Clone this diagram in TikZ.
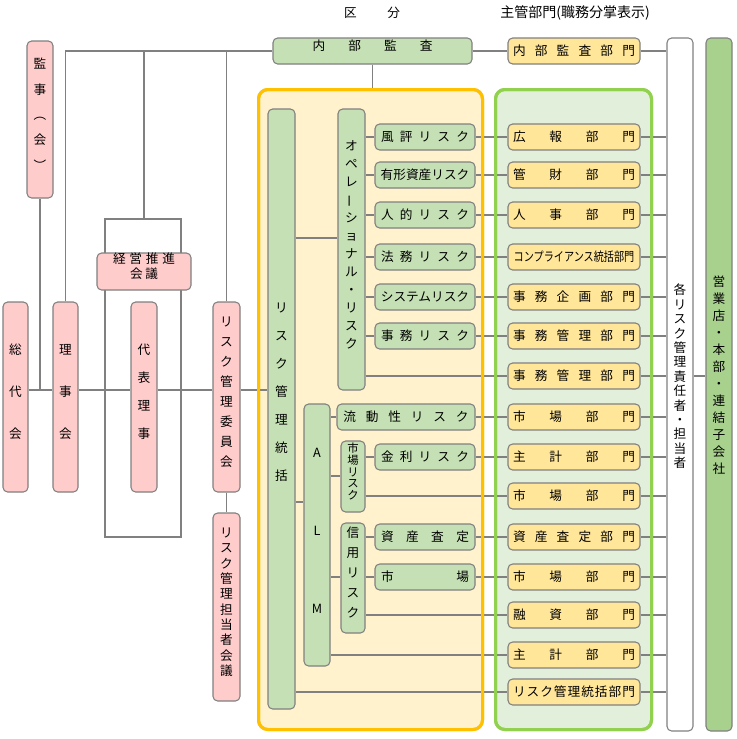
\documentclass[tikz,border=0pt]{standalone}
\usepackage{fontspec}
\usepackage{graphicx}
\setmainfont{Noto Sans CJK JP}
\usetikzlibrary{fit,backgrounds}
\definecolor{pinkf}{HTML}{FFCCCC}
\definecolor{greenf}{HTML}{C5E0B4}
\definecolor{yellowf}{HTML}{FFE699}
\definecolor{orangeb}{HTML}{FFC000}
\definecolor{orangef}{HTML}{FFF2CC}
\definecolor{lgreenb}{HTML}{92D050}
\definecolor{lgreenf}{HTML}{E2EFDA}
\definecolor{eigyof}{HTML}{A9D18E}
\definecolor{grayb}{HTML}{808080}
\newcommand\lsp[2]{\makebox[#1][s]{\lsploop#2\relax}}
\def\lsploop#1#2{#1\ifx\relax#2\else\hfill\expandafter\lsploop\expandafter#2\fi}
\newcommand\vbar{\rotatebox[origin=c]{90}{ー}}
\begin{document}
\begin{tikzpicture}[x=0.75pt,y=-0.75pt, font=\fontsize{9.5}{11}\selectfont,
  base/.style={draw=grayb, line width=0.8pt, rounded corners=3.5pt, inner sep=0pt},
  pk/.style={base, fill=pinkf},
  gn/.style={base, fill=greenf},
  dept/.style={base, fill=yellowf, minimum width=99pt, minimum height=19.5pt},
  rk/.style={base, fill=greenf, minimum width=75pt, minimum height=19.5pt},
  vt/.style={align=center, font=\fontsize{9.5}{#1}\selectfont},
  ln/.style={draw=grayb, line width=0.8pt},
  area/.style={line width=2.25pt, rounded corners=7pt, inner sep=0pt}
]
\useasboundingbox (0,0) rectangle (736,739);

% titles
\node (kubun) at (372,13) {\lsp{42pt}{区分}};
\node (shukan) at (575,13) {\fontsize{10.5}{12}\selectfont 主管部門(職務分掌表示)};

% left column
\node[pk, vt=19pt, fit={(27,41) (53,198)}] (kansa) {監\\事\\︵\\会\\︶};
\node[pk, vt=31.5pt, fit={(3,302) (28,492)}] (sodai) {総\\代\\会};
\node[pk, vt=31.5pt, fit={(53,302) (78,492)}] (riji) {理\\事\\会};
\node[pk, vt=21pt, fit={(131,302) (157,492)}] (daihyo) {代\\表\\理\\事};
\node[pk, vt=15.1pt, fit={(213,302) (240,492)}] (iinkai) {リ\\ス\\ク\\管\\理\\委\\員\\会};
\node[pk, vt=11.5pt, fit={(213,513) (240,701)}] (tanto) {リ\\ス\\ク\\管\\理\\担\\当\\者\\会\\議};
\node[pk, vt=11.25pt, fit={(97,253) (191,290)}] (keiei) {\lsp{46.5pt}{経営推進}\\\lsp{21pt}{会議}};

% top
\node[gn, fit={(273,38) (472,64)}] (naibu) {\lsp{90pt}{内部監査}};

% containers
\begin{scope}[on background layer]
\fill[white] (0,0) rectangle (736,739);
\node[area, draw=orangeb, fill=orangef, fit={(258.5,89.5) (482.5,729.5)}] (riskarea) {};
\node[area, draw=lgreenb, fill=lgreenf, fit={(495.5,89.5) (651.5,729.5)}] (deptarea) {};
\coordinate (brTL) at (105,219);
\coordinate (brBR) at (181,537);
\draw[ln] (brTL) rectangle (brBR);
\end{scope}

% risk area
\node[gn, fit={(268,109) (295,709)}] (tokatsu) {};
\node[vt=21pt] (tokatsuT) at ([yshift=12.75pt]tokatsu.center) {リ\\ス\\ク\\管\\理\\統\\括};
\node[gn, vt=13.5pt, fit={(338,109) (365,390)}] (ope) {オ\\ペ\\レ\\\vbar\\シ\\ョ\\ナ\\ル\\・\\リ\\ス\\ク};
\node[gn, vt=58.5pt, fit={(304,404) (330,666)}] (alm) {A\\L\\M};
\node[gn, align=center, font=\fontsize{8.5}{8.8}\selectfont, fit={(341,441) (365,512)}] (shijorisk) {市\\場\\リ\\ス\\ク};
\node[gn, vt=15pt, fit={(341,523) (365,633)}] (shinyo) {信\\用\\リ\\ス\\ク};

\node[rk] (fuhyo) at (425,137) {\lsp{66pt}{風評リスク}};
\node[rk] (yukei) at (425,175) {有形資産リスク};
\node[rk] (jinteki) at (425,215) {\lsp{66pt}{人的リスク}};
\node[rk] (homu) at (425,257) {\lsp{66pt}{法務リスク}};
\node[rk] (system) at (425,297) {システムリスク};
\node[rk] (jimu) at (425,336) {\lsp{66pt}{事務リスク}};
\node[rk, minimum width=103.5pt] (ryudo) at (406,417) {\lsp{94pt}{流動性リスク}};
\node[rk] (kinri) at (425,457) {\lsp{66pt}{金利リスク}};
\node[rk] (satei) at (425,537) {\lsp{66pt}{資産査定}};
\node[rk] (shijo) at (425,577) {\lsp{66pt}{市場}};

% departments
\node[dept] (dnaibu) at (574,51) {\lsp{91.5pt}{内部監査部門}};
\node[dept] (dkoho) at (574,137) {\lsp{91.5pt}{広報部門}};
\node[dept] (dkanzai) at (574,175) {\lsp{91.5pt}{管財部門}};
\node[dept] (djinji) at (574,215) {\lsp{91.5pt}{人事部門}};
\node[dept] (dcomp) at (574,257) {\scalebox{0.8}[1]{コンプライアンス統括部門}};
\node[dept] (dkikaku) at (574,297) {\lsp{91.5pt}{事務企画部門}};
\node[dept] (dkanri1) at (574,336) {\lsp{91.5pt}{事務管理部門}};
\node[dept] (dkanri2) at (574,376) {\lsp{91.5pt}{事務管理部門}};
\node[dept] (dshijo1) at (574,417) {\lsp{91.5pt}{市場部門}};
\node[dept] (dshukei1) at (574,457) {\lsp{91.5pt}{主計部門}};
\node[dept] (dshijo2) at (574,496) {\lsp{91.5pt}{市場部門}};
\node[dept] (dsatei) at (574,537) {\lsp{91.5pt}{資産査定部門}};
\node[dept] (dshijo3) at (574,577) {\lsp{91.5pt}{市場部門}};
\node[dept] (dyushi) at (574,615) {\lsp{91.5pt}{融資部門}};
\node[dept] (dshukei2) at (574,655) {\lsp{91.5pt}{主計部門}};
\node[dept] (dtokatsu) at (574,692) {\lsp{91.5pt}{リスク管理統括部門}};

% right columns
\node[base, fill=white, fit={(667,38) (693,731)}] (resp) {};
\node[vt=10.8pt] (respT) at ([yshift=6pt]resp.center) {各\\リ\\ス\\ク\\管\\理\\責\\任\\者\\・\\担\\当\\者};
\node[base, fill=eigyof, fit={(706,38) (732,731)}] (eigyo) {};
\node[vt=12.75pt] (eigyoT) at ([yshift=7pt]eigyo.center) {営\\業\\店\\・\\本\\部\\・\\連\\結\\子\\会\\社};

% connectors (left)
\coordinate (mainy) at (0,390);
\draw[ln] (riji.north) |- (naibu.west);
\draw[ln] (naibu.west -| keiei.north) -- (keiei.north |- brTL);
\draw[ln] (iinkai.north) -- (iinkai.north |- naibu.west);
\draw[ln] (kansa.south) -- (kansa.south |- mainy);
\draw[ln] (sodai.east |- mainy) -- (riji.west |- mainy);
\draw[ln] (riji.east |- mainy) -- (daihyo.west |- mainy);
\draw[ln] (daihyo.east |- mainy) -- (iinkai.west |- mainy);
\draw[ln] (iinkai.east |- mainy) -- (tokatsu.west |- mainy);
\draw[ln] (iinkai.south) -- (tanto.north);
\draw[ln] (naibu.south) -- (naibu.south |- riskarea.north);
\draw[ln] (naibu.east) -- (dnaibu.west);

% risk -> dept
\foreach \a/\b in {fuhyo/dkoho, yukei/dkanzai, jinteki/djinji, homu/dcomp, system/dkikaku, jimu/dkanri1, ryudo/dshijo1, kinri/dshukei1, satei/dsatei, shijo/dshijo3}
  \draw[ln] (\a.east) -- (\b.west);
\foreach \a in {fuhyo, yukei, jinteki, homu, system, jimu}
  \draw[ln] (ope.east |- \a.west) -- (\a.west);
\draw[ln] (ope.east |- dkanri2.west) -- (dkanri2.west);

\coordinate (y238) at (0,238);
\coordinate (y502) at (0,502);
\coordinate (y476) at (0,476);
\draw[ln] (tokatsu.east |- y238) -- (ope.west |- y238);
\draw[ln] (tokatsu.east |- y502) -- (alm.west |- y502);
\draw[ln] (tokatsu.east |- dtokatsu.west) -- (dtokatsu.west);
\draw[ln] (alm.east |- ryudo.west) -- (ryudo.west);
\draw[ln] (alm.east |- y476) -- (shijorisk.west |- y476);
\draw[ln] (alm.east |- shijo.west) -- (shinyo.west |- shijo.west);
\draw[ln] (alm.east |- dshukei2.west) -- (dshukei2.west);
\draw[ln] (shijorisk.east |- kinri.west) -- (kinri.west);
\draw[ln] (shijorisk.east |- dshijo2.west) -- (dshijo2.west);
\draw[ln] (shinyo.east |- satei.west) -- (satei.west);
\draw[ln] (shinyo.east |- shijo.west) -- (shijo.west);
\draw[ln] (shinyo.east |- dyushi.west) -- (dyushi.west);

% dept -> resp
\foreach \d in {dnaibu, dkoho, dkanzai, djinji, dcomp, dkikaku, dkanri1, dkanri2, dshijo1, dshukei1, dshijo2, dsatei, dshijo3, dyushi, dshukei2, dtokatsu}
  \draw[ln] (\d.east) -- (resp.west |- \d.east);
\draw[ln] (resp.east |- dkanri2.east) -- (eigyo.west |- dkanri2.east);

% container borders above the connectors
\node[area, draw=orangeb, fit={(258.5,89.5) (482.5,729.5)}] (riskareaB) {};
\node[area, draw=lgreenb, fit={(495.5,89.5) (651.5,729.5)}] (deptareaB) {};
\end{tikzpicture}
\end{document}
